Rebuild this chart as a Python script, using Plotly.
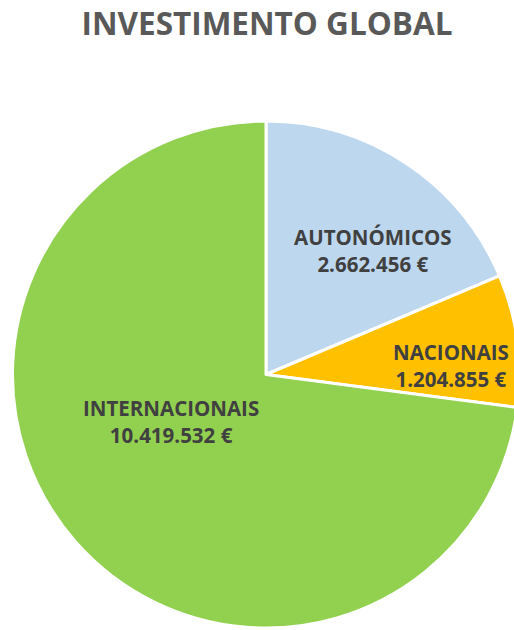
import plotly.graph_objects as go

# Data
categories = ["AUTONÓMICOS", "NACIONAIS", "INTERNACIONAIS"]
values = [2662456, 1204855, 10419532]
colors = ["#BDD7EE", "#FFC000", "#92D050"]
title_text = "INVESTIMENTO GLOBAL"

W, H = 520, 630


def fmt(v):
    return f"{v:,}".replace(",", ".") + " €"


fig = go.Figure(
    go.Pie(
        labels=categories,
        values=values,
        sort=False,
        direction="clockwise",
        rotation=0,
        marker=dict(colors=colors, line=dict(color="white", width=3)),
        textinfo="none",
        hoverinfo="label+value",
        showlegend=False,
        domain=dict(x=[12 / W, 1], y=[2 / H, 509 / H]),
    )
)

# label placement (pixel centres), style only
label_pos = [(373, 251), (451, 365), (171, 422)]
for cat, val, (px, py) in zip(categories, values, label_pos):
    fig.add_annotation(
        x=px / W, y=1 - py / H, xref="paper", yref="paper",
        text=f"<b>{cat}</b><br><b>{fmt(val)}</b>",
        showarrow=False, xanchor="center", yanchor="middle",
        font=dict(family="Open Sans", size=20.5, color="#404040"),
        align="center",
    )

fig.update_layout(
    width=W, height=H,
    margin=dict(l=0, r=0, t=0, b=0),
    paper_bgcolor="white",
    title=dict(
        text=f"<b>{title_text}</b>", x=267 / W, xanchor="center",
        y=1 - 24 / H, yanchor="middle",
        font=dict(family="Open Sans", size=31.5, color="#595959"),
    ),
)

fig.write_html(
    "out.html",
    config={"displayModeBar": False},
    post_script="document.body.style.margin='0';document.body.style.overflow='hidden';document.documentElement.style.overflow='hidden';",
)
